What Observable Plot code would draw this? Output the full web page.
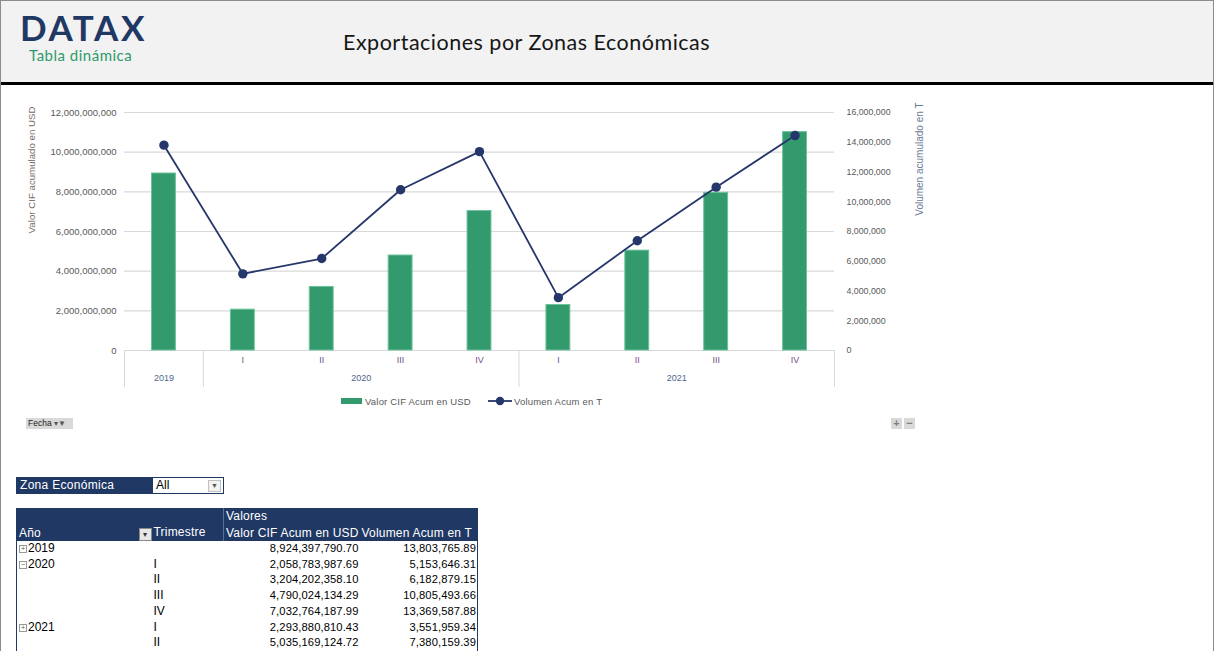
<!DOCTYPE html>
<html>
<head>
<meta charset="utf-8">
<script src="https://cdn.jsdelivr.net/npm/d3@7"></script>
<script src="https://cdn.jsdelivr.net/npm/@observablehq/plot@0.6"></script>
<style>
  html, body { margin: 0; padding: 0; background: #fff; }
  #page { position: relative; width: 1212px; height: 651px; overflow: hidden;
          border-left: 1px solid #8c8c8c; border-right: 1px solid #8c8c8c; border-top: 1px solid #8c8c8c;
          font-family: "Liberation Sans", Arial, sans-serif; }
  #header { position: absolute; left: 0; top: 0; width: 1212px; height: 81px; background: #f2f2f2;
            border-bottom: 3px solid #000; }
  #logo { position: absolute; left: 19px; top: 9px; font-family: Lato, sans-serif; font-weight: 700;
          font-size: 35px; line-height: 35px; letter-spacing: 2.6px; color: #1f3864; }
  #sub { position: absolute; left: 28px; top: 45px; font-family: Lato, sans-serif; font-size: 15px;
         line-height: 18px; color: #2e9a6b; letter-spacing: 0.5px; }
  #title { position: absolute; left: 342px; top: 28px; font-family: Lato, sans-serif; font-size: 21.5px;
           line-height: 26px; color: #161616; letter-spacing: 0.5px; }
  #chart { position: absolute; left: 0; top: 95px; }
  #legend { position: absolute; top: 393px; left: 340px; font-size: 9.5px; color: #595959; display: flex;
            align-items: center; height: 14px; letter-spacing: 0.2px; }
  #legend .sw { display: inline-block; width: 21px; height: 6px; background: #339a6e; margin-right: 3px; }
  #legend .item { display: flex; align-items: center; margin-right: 17px; }
  #fecha { position: absolute; left: 25px; top: 417px; width: 47px; height: 11px; background: #d9d9d9;
           font-size: 8.5px; line-height: 11px; color: #222; padding-left: 2px; box-sizing: border-box; }
  #fecha span { font-size: 8px; color: #555; }
  .zb { position: absolute; top: 417px; width: 11px; height: 11px; background: #d9d9d9; color: #7f7f7f;
        font-size: 11px; line-height: 11px; text-align: center; font-weight: bold; }
  #filter { position: absolute; left: 15px; top: 476px; width: 206px; height: 15px; border: 1px solid #1f3864;
            font-size: 12px; line-height: 15px; }
  #filter .lab { position: absolute; left: 0; top: 0; width: 136px; height: 15px; background: #1f3864; color: #fff;
                 padding-left: 3px; box-sizing: border-box; letter-spacing: 0.3px; }
  #filter .val { position: absolute; left: 139px; top: 0; color: #000; }
  #filter .dd { position: absolute; right: 2px; top: 2px; width: 11px; height: 10px; border: 1px solid #bfbfbf;
                background: #f2f2f2; font-size: 7px; line-height: 10px; text-align: center; color: #555; }
  #pivot { position: absolute; left: 15px; top: 507px; border-collapse: collapse; font-size: 12px;
           table-layout: fixed; width: 461px;
           border-left: 1px solid #1f3864; border-right: 1px solid #1f3864; }
  #pivot td { padding: 0 2px; height: 15.7px; line-height: 15.7px; white-space: nowrap; overflow: hidden; box-sizing: border-box; }
  #pivot thead td { background: #1f3864; color: #fff; height: 16.5px; line-height: 16.5px; letter-spacing: 0.2px; }
  #pivot .num { text-align: right; font-size: 11.2px; letter-spacing: 0.1px; padding-right: 1px; }
  .ex { display: inline-block; width: 6px; height: 6px; border: 1px solid #999; font-size: 7px; line-height: 6px;
        text-align: center; color: #555; margin-right: 1px; vertical-align: 1px; }
  .fi { display: inline-block; width: 11px; height: 11px; background: #e7e7e7; border: 1px solid #888;
        color: #333; font-size: 8px; line-height: 11px; text-align: center; vertical-align: -1px; margin-right: 2px; }
</style>
</head>
<body>
<div id="page">
  <div id="header">
    <div id="logo">DATAX</div>
    <div id="sub">Tabla dinámica</div>
    <div id="title">Exportaciones por Zonas Económicas</div>
  </div>
  <div id="chart"></div>
  <div id="legend"></div>
  <div id="fecha">Fecha <span>▾▼</span></div>
  <div class="zb" style="left:890px">+</div>
  <div class="zb" style="left:903px">−</div>
  <div id="filter"><div class="lab">Zona Económica</div><div class="val">All</div><div class="dd">▼</div></div>
  <table id="pivot"></table>
</div>
<script>
// ---- data ----
const years    = ["2019", "2020", "2020", "2020", "2020", "2021", "2021", "2021", "2021"];
const quarters = ["", "I", "II", "III", "IV", "I", "II", "III", "IV"];
const valorCIF = [8924397790.70, 2058783987.69, 3204202358.10, 4790024134.29, 7032764187.99,
                  2293880810.43, 5035169124.72, 7950000000, 11010000000];
const volumen  = [13803765.89, 5153646.31, 6182879.15, 10805493.66, 13369587.88,
                  3551959.34, 7380159.39, 10980000, 14450000];
const leftTicks  = [0, 2e9, 4e9, 6e9, 8e9, 10e9, 12e9];
const rightTicks = [0, 2e6, 4e6, 6e6, 8e6, 10e6, 12e6, 14e6, 16e6];
const seriesNames = ["Valor CIF Acum en USD", "Volumen Acum en T"];
const axisTitles  = ["Valor CIF acumulado en USD", "Volumen acumulado en T"];
const tableRowsShown = 7; // rows visible in the reference crop

const green = "#339a6e", navy = "#25366b";
const rows = years.map((y, i) => ({i, year: y, q: quarters[i], cif: valorCIF[i], vol: volumen[i]}));
const ratio = leftTicks[leftTicks.length - 1] / rightTicks[rightTicks.length - 1];
const fmt = d3.format(",");
const yearGroups = d3.groups(rows, d => d.year).map(([y, v]) => ({year: y, x: d3.mean(v, d => d.i) + 0.5}));
const seps = [0, ...yearGroups.map(g => d3.max(rows.filter(r => r.year === g.year), r => r.i) + 1)];

const chart = Plot.plot({
  width: 940, height: 295,
  marginLeft: 123, marginRight: 107, marginTop: 16, marginBottom: 41,
  style: {fontFamily: "Liberation Sans, Arial, sans-serif", fontSize: "9px", color: "#595959",
          background: "transparent"},
  x: {domain: [0, rows.length]},
  y: {domain: [0, leftTicks[leftTicks.length - 1]]},
  marks: [
    Plot.gridY(leftTicks, {stroke: "#d9d9d9", strokeOpacity: 1, strokeWidth: 1.2}),
    Plot.axisX(seps, {tickSize: 37, tickFormat: () => "", stroke: "#d9d9d9", strokeOpacity: 1, label: null}),
    Plot.axisY(leftTicks, {anchor: "left", tickSize: 0, tickPadding: 8, tickFormat: fmt, label: null,
      fontSize: 9.5, style: "letter-spacing:0.75px"}),
    Plot.axisY(rightTicks.map(v => v * ratio), {anchor: "right", tickSize: 0, tickPadding: 12,
      tickFormat: v => fmt(Math.round(v / ratio)), label: null, fontSize: 8.8, style: "letter-spacing:0.3px"}),
    Plot.text([axisTitles[0]], {frameAnchor: "top-left", dx: -96, dy: -6, rotate: -90, textAnchor: "end",
      fill: "#7d6b6b", fontSize: 9.7, text: d => d}),
    Plot.text([axisTitles[1]], {frameAnchor: "top-right", dx: 81, dy: -10, rotate: -90, textAnchor: "end",
      fill: "#6b7896", fontSize: 10, text: d => d}),
    Plot.rectY(rows, {x1: "i", x2: d => d.i + 1, y: "cif", fill: green, stroke: "#6cc29a", strokeWidth: 1,
      insetLeft: 27.5, insetRight: 27.5}),
    Plot.line(rows, {x: d => d.i + 0.5, y: d => d.vol * ratio, stroke: navy, strokeWidth: 1.8}),
    Plot.dot(rows, {x: d => d.i + 0.5, y: d => d.vol * ratio, fill: navy, r: 4.7}),
    Plot.text(rows.filter(d => d.q), {x: d => d.i + 0.5, text: "q", frameAnchor: "bottom", dy: 12,
      fill: "#7b4a8c", fontSize: 9}),
    Plot.text(yearGroups, {x: "x", text: "year", frameAnchor: "bottom", dy: 30, fill: "#4f6690", fontSize: 9,
      style: "letter-spacing:0.4px"})
  ]
});
document.getElementById("chart").appendChild(chart);

// legend
const lg = document.getElementById("legend");
lg.innerHTML =
  `<div class="item"><span class="sw"></span>${seriesNames[0]}</div>` +
  `<div class="item"><svg width="24" height="10" style="margin-right:2px"><line x1="0" x2="24" y1="5" y2="5" stroke="${navy}" stroke-width="1.8"/><circle cx="12" cy="5" r="4.2" fill="${navy}"/></svg>${seriesNames[1]}</div>`;

// pivot table
const f2 = d3.format(",.2f");
let html = `<colgroup><col style="width:122px"><col style="width:85px"><col style="width:136px"><col style="width:118px"></colgroup>` +
  `<thead><tr><td rowspan="2" style="vertical-align:bottom">Año</td>` +
  `<td rowspan="2" style="vertical-align:bottom;padding-left:0"><span class="fi">▾</span>Trimestre</td>` +
  `<td colspan="2" style="border-left:1px solid #5a6d96">Valores</td></tr>` +
  `<tr><td style="border-left:1px solid #5a6d96">${seriesNames[0]}</td><td>${seriesNames[1]}</td></tr></thead><tbody>`;
rows.slice(0, tableRowsShown).forEach((r, k) => {
  const first = k === 0 || rows[k - 1].year !== r.year;
  const sym = r.year === "2020" ? "−" : "+";
  html += `<tr><td>${first ? `<span class="ex">${sym}</span>${r.year}` : ""}</td>` +
          `<td style="padding-left:15px">${r.q}</td>` +
          `<td class="num">${f2(r.cif)}</td><td class="num">${f2(r.vol)}</td></tr>`;
});
html += `</tbody>`;
document.getElementById("pivot").innerHTML = html;
</script>
</body>
</html>
